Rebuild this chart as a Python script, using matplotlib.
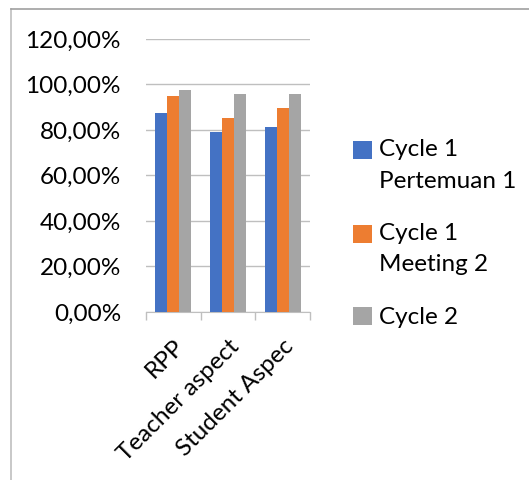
import numpy as np
import matplotlib.pyplot as plt
import matplotlib.transforms as mtransforms
from matplotlib.lines import Line2D
from matplotlib.ticker import FuncFormatter

plt.rcParams['font.family'] = ['Lato', 'DejaVu Sans']

# 数据：三个评估方面，三个阶段的百分比
categories = ['RPP', 'Teacher aspect', 'Student Aspec']
series_names = ['Cycle 1\nPertemuan 1', 'Cycle 1\nMeeting 2', 'Cycle 2']
cycle1_p1 = [87.3, 79.1, 81.2]
cycle1_m2 = [95.0, 85.4, 89.7]
cycle2 = [97.4, 95.8, 95.8]
y_ticks = [0, 20, 40, 60, 80, 100, 120]

colors = ['#4472C4', '#ED7D31', '#A5A5A5']
fs = 17.5

fig = plt.figure(figsize=(5.29, 4.80), dpi=100)
ax = fig.add_axes([0.276, 0.35, 0.31, 0.569])

x = np.arange(len(categories))
w = 0.22
for i, (vals, name) in enumerate(zip([cycle1_p1, cycle1_m2, cycle2], series_names)):
    ax.bar(x + (i - 1) * w, vals, width=w, color=colors[i], label=name, zorder=3)

ax.set_xlim(-0.5, len(categories) - 0.5)
ax.set_ylim(0, 120)
ax.set_yticks(y_ticks)
ax.yaxis.set_major_formatter(FuncFormatter(lambda v, p: f'{v:.2f}%'.replace('.', ',')))
ax.grid(axis='y', color='#BFBFBF', lw=1, zorder=0)

# Excel 风格：分类边界处的刻度
ax.set_xticks(np.arange(-0.5, len(categories), 1.0))
ax.set_xticklabels([])
ax.set_xticks(x, minor=True)
ax.set_xticklabels(categories, minor=True, rotation=45, ha='right',
                   rotation_mode='anchor', fontsize=fs)
shift = mtransforms.ScaledTranslation(-4 / 100, -1 / 100, fig.dpi_scale_trans)
for lab in ax.get_xticklabels(minor=True):
    lab.set_transform(lab.get_transform() + shift)
ax.tick_params(axis='x', which='major', length=6, color='#BFBFBF', width=1)
ax.tick_params(axis='x', which='minor', length=0, pad=17)
ax.tick_params(axis='y', length=0, labelsize=fs, pad=18)
for s in ['top', 'right', 'left']:
    ax.spines[s].set_visible(False)
ax.spines['bottom'].set_color('#BFBFBF')

leg = fig.legend(loc='upper left', bbox_to_anchor=(0.645, 0.735), frameon=False,
                 fontsize=fs, handlelength=0.75, handleheight=0.75,
                 handletextpad=0.3, labelspacing=1.3, borderpad=0)
for t in leg.get_texts():
    t.set_linespacing(1.6)
# 两行图例的色块对齐第一行
for h in leg.legend_handles[:2]:
    h.set_y(h.get_y() + 11)

# 图表外框（左、上）
fig.add_artist(Line2D([11 / 529, 11 / 529], [0, 1 - 9 / 480], color='#BFBFBF', lw=1.2))
fig.add_artist(Line2D([11 / 529, 1], [1 - 9 / 480, 1 - 9 / 480], color='#A0A0A0', lw=1.2))

fig.savefig('out.png', dpi=100)
